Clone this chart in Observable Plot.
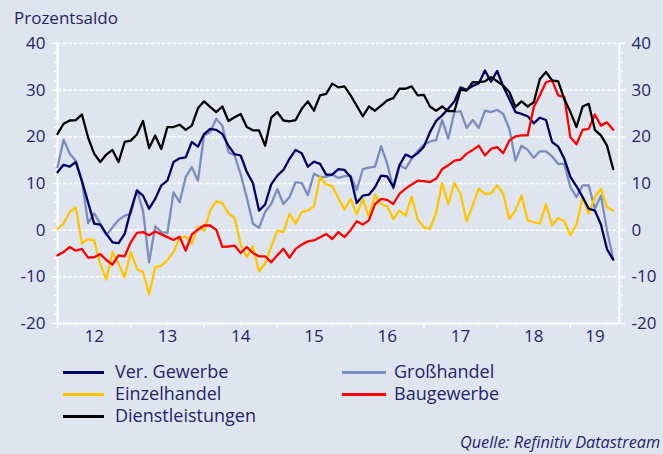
<!DOCTYPE html>
<html><head><meta charset="utf-8">
<script src="https://cdn.jsdelivr.net/npm/d3@7"></script>
<script src="https://cdn.jsdelivr.net/npm/@observablehq/plot@0.6"></script>
<style>
html,body{margin:0;padding:0;background:#dfe5ef;}
#wrap{position:relative;width:663px;height:454px;background:#dfe5ef;font-family:"Open Sans",sans-serif;color:#24246e;overflow:hidden;}
#title{position:absolute;left:14px;top:6px;font-size:17px;line-height:23px;}
#chart{position:absolute;left:0;top:28px;}
.leg{position:absolute;font-size:18px;line-height:22px;white-space:nowrap;}
.sw{position:absolute;height:3px;}
#src{position:absolute;left:460px;top:431px;font-size:16.3px;line-height:22px;font-style:italic;white-space:nowrap;}
</style></head>
<body>
<div id="wrap">
  <div id="title">Prozentsaldo</div>
  <div id="chart"></div>
  <div id="legend"></div>
  <div id="src">Quelle: Refinitiv Datastream</div>
</div>
<script>
// monthly values, Jan 2012 – Aug 2019
const verGewerbe = [12.4,14.0,13.6,14.6,10.5,6.0,1.4,1.2,-0.8,-2.6,-2.8,-0.8,4.2,8.5,7.4,4.6,6.7,9.6,10.6,14.6,15.4,15.6,18.9,17.9,20.6,21.7,21.5,20.6,18.1,16.3,16.0,12.5,10.1,4.2,5.5,9.8,11.7,12.9,15.3,17.2,16.5,13.6,14.7,14.2,11.9,11.9,13.1,12.9,11.4,5.8,7.4,7.6,9.2,11.7,11.5,9.2,13.9,16.2,15.6,16.5,17.9,21.0,23.4,24.6,26.0,27.6,30.6,30.1,30.9,31.5,34.2,31.8,34.1,30.8,28.1,25.3,24.9,24.4,22.9,24.1,23.6,18.9,17.9,15.3,11.4,9.4,7.1,4.6,4.2,1.2,-4.1,-6.3];
const grosshandel = [13.5,19.4,16.4,14.9,10.6,1.5,3.6,1.4,-1.1,0.6,2.2,3.1,3.5,8.6,4.2,-6.9,0.8,-0.4,-0.6,8.1,6.0,11.4,13.5,10.6,20.3,21.0,23.9,22.4,16.7,16.0,12.0,7.0,1.4,0.5,3.9,5.6,8.8,5.6,7.1,10.3,10.1,7.5,12.1,11.4,11.4,11.9,11.2,11.6,11.7,8.6,13.1,13.4,13.6,18.0,14.2,8.9,13.9,13.2,15.3,17.0,18.3,19.0,19.3,23.6,19.6,25.3,25.5,21.9,23.6,21.9,25.6,25.3,25.8,24.9,21.7,14.9,18.1,17.2,15.5,16.9,16.9,15.8,14.2,14.2,9.2,7.1,9.6,9.6,4.6,7.4,-0.1,-6.1];
const einzelhandel = [0.3,1.4,3.9,4.9,-2.9,-1.9,-2.2,-7.2,-10.6,-4.7,-7.2,-10.1,-4.7,-8.3,-9.0,-13.8,-7.9,-7.6,-6.4,-4.7,-1.6,-1.4,-2.9,0.8,-0.1,4.2,6.2,5.8,3.6,2.6,-3.0,-5.8,-3.5,-8.8,-7.2,-3.6,-0.1,-0.4,3.5,1.4,3.9,4.2,5.1,11.4,9.8,9.4,6.9,4.4,6.7,3.4,6.7,2.8,7.6,5.6,5.1,2.4,4.2,3.1,7.2,2.3,0.6,0.3,3.7,10.1,5.6,10.1,7.8,1.9,5.3,8.9,7.8,7.9,9.6,7.8,2.4,4.2,7.4,2.1,1.7,1.4,5.6,1.0,2.6,1.9,-1.1,1.2,7.1,3.5,7.1,8.9,4.9,4.2];
const baugewerbe = [-5.4,-4.7,-3.6,-4.4,-4.0,-5.9,-5.8,-5.1,-6.4,-7.4,-5.4,-5.6,-2.6,-0.6,-0.4,-1.1,-0.3,-0.9,-1.5,-2.1,-1.4,-4.4,-0.9,0.1,1.0,1.0,0.1,-3.6,-3.5,-3.3,-4.9,-3.6,-4.9,-5.6,-5.6,-6.9,-5.4,-4.0,-5.9,-4.0,-3.1,-2.4,-2.2,-1.5,-0.8,-1.9,-0.4,-1.5,0.0,1.9,1.2,2.1,5.6,6.7,6.5,5.6,7.8,8.9,9.8,10.6,10.5,10.3,11.0,13.1,13.9,14.9,15.1,16.4,17.2,18.1,16.0,17.4,17.8,16.5,19.2,20.1,20.3,20.3,26.4,28.9,31.7,32.1,28.9,28.5,19.9,18.4,21.5,21.7,24.8,22.4,23.1,21.5];
const dienstleistungen = [20.6,22.8,23.5,23.6,24.8,19.9,16.4,14.6,16.2,17.2,14.6,18.9,19.2,20.5,23.4,17.6,20.3,17.4,22.1,22.1,22.6,21.5,22.4,26.1,27.6,26.4,25.3,26.5,23.4,24.2,24.9,22.1,21.4,21.4,18.1,24.1,25.3,23.5,23.3,23.6,26.0,27.6,25.6,28.9,29.2,31.4,30.6,30.8,28.9,26.7,24.4,26.5,25.6,26.7,27.8,28.3,30.3,30.3,30.8,28.9,29.0,26.5,25.6,26.5,25.5,25.5,30.1,29.9,31.7,31.7,31.9,32.8,31.9,31.0,29.6,26.4,27.6,26.5,27.4,32.4,33.9,32.1,31.9,28.1,25.3,22.1,26.5,27.1,21.5,20.3,18.1,13.1];

const seriesNames = ["Ver. Gewerbe","Großhandel","Einzelhandel","Baugewerbe","Dienstleistungen"];
const seriesColors = ["#000066","#7b8dbf","#ffc600","#ff0000","#000000"];
const yearLabels = ["12","13","14","15","16","17","18","19"];
const years = [2012,2013,2014,2015,2016,2017,2018,2019];
const yTicks = [-20,-10,0,10,20,30,40];
const startYear = 2012;

const navy = "#24246e";
const xDomain = [2012, 2019.67];
const valuesByName = {
  "Ver. Gewerbe": verGewerbe, "Großhandel": grosshandel, "Einzelhandel": einzelhandel,
  "Baugewerbe": baugewerbe, "Dienstleistungen": dienstleistungen
};
const colorOf = Object.fromEntries(seriesNames.map((n,i)=>[n, seriesColors[i]]));
const toRows = name => valuesByName[name].map((v,i)=>({name, t: startYear + i/12, v}));

const yMinor = d3.range(-20, 41, 2);
const quarterTicks = d3.range(xDomain[0], xDomain[1], 0.25);
const yearLabelPos = years.map(y => y < 2019 ? y + 0.5 : (y + xDomain[1]) / 2);

const drawOrder = ["Großhandel","Einzelhandel","Ver. Gewerbe","Baugewerbe","Dienstleistungen"];

const chart = Plot.plot({
  width: 663, height: 330,
  marginLeft: 57, marginRight: 44, marginTop: 15, marginBottom: 35,
  style: {background: "transparent", fontFamily: "Open Sans, sans-serif", color: navy, overflow: "visible"},
  x: {domain: xDomain, label: null},
  y: {domain: [-20, 40], label: null},
  marks: [
    Plot.gridY(yTicks.filter(d => d > -20), {stroke: "white", strokeOpacity: 1, strokeWidth: 1.5, strokeDasharray: "4,1.5"}),
    Plot.axisY(yMinor, {anchor: "left", text: null, label: null, tickSize: 3, stroke: "white", strokeWidth: 1.2}),
    Plot.axisY(yTicks, {anchor: "left", text: null, label: null, tickSize: 5, stroke: "white", strokeWidth: 1.5}),
    Plot.axisY(yTicks, {anchor: "left", label: null, tickSize: 0, tickPadding: 12, fill: navy, fontSize: 17, tickFormat: d => String(d)}),
    Plot.axisY(yMinor, {anchor: "right", text: null, label: null, tickSize: 3, stroke: "white", strokeWidth: 1.2}),
    Plot.axisY(yTicks, {anchor: "right", text: null, label: null, tickSize: 5, stroke: "white", strokeWidth: 1.5}),
    Plot.axisY(yTicks, {anchor: "right", label: null, tickSize: 0, tickPadding: 12, fill: navy, fontSize: 17, tickFormat: d => String(d)}),
    Plot.axisX(quarterTicks, {anchor: "bottom", text: null, label: null, tickSize: 2.5, stroke: "white", strokeWidth: 1.2}),
    Plot.axisX(years, {anchor: "bottom", text: null, label: null, tickSize: 5, stroke: "white", strokeWidth: 1.5}),
    Plot.text(yearLabels, {x: (d, i) => yearLabelPos[i], frameAnchor: "bottom", dy: 18, text: d => d, fill: navy, fontSize: 17}),
    Plot.ruleX(xDomain, {stroke: "white", strokeWidth: 2}),
    Plot.ruleY([-20], {stroke: "white", strokeWidth: 2}),
    ...drawOrder.map(n => Plot.line(toRows(n), {x: "t", y: "v", stroke: colorOf[n], strokeWidth: 2.3}))
  ]
});
document.getElementById("chart").appendChild(chart);

// legend (HTML, below the svg)
const legend = document.getElementById("legend");
const legendSlots = [
  {name: "Ver. Gewerbe", col: 0, row: 0},
  {name: "Großhandel", col: 1, row: 0},
  {name: "Einzelhandel", col: 0, row: 1},
  {name: "Baugewerbe", col: 1, row: 1},
  {name: "Dienstleistungen", col: 0, row: 2}
];
const colX = [{sw: 63, w: 41, tx: 115}, {sw: 342, w: 44, tx: 394}];
legendSlots.forEach(s => {
  const c = colX[s.col];
  const sw = document.createElement("div");
  sw.className = "sw";
  sw.style.left = c.sw + "px";
  sw.style.width = c.w + "px";
  sw.style.top = (370.8 + s.row * 22) + "px";
  sw.style.background = colorOf[s.name];
  legend.appendChild(sw);
  const t = document.createElement("div");
  t.className = "leg";
  t.style.left = c.tx + "px";
  t.style.top = (360 + s.row * 22) + "px";
  t.textContent = s.name;
  legend.appendChild(t);
});
</script>
</body></html>
